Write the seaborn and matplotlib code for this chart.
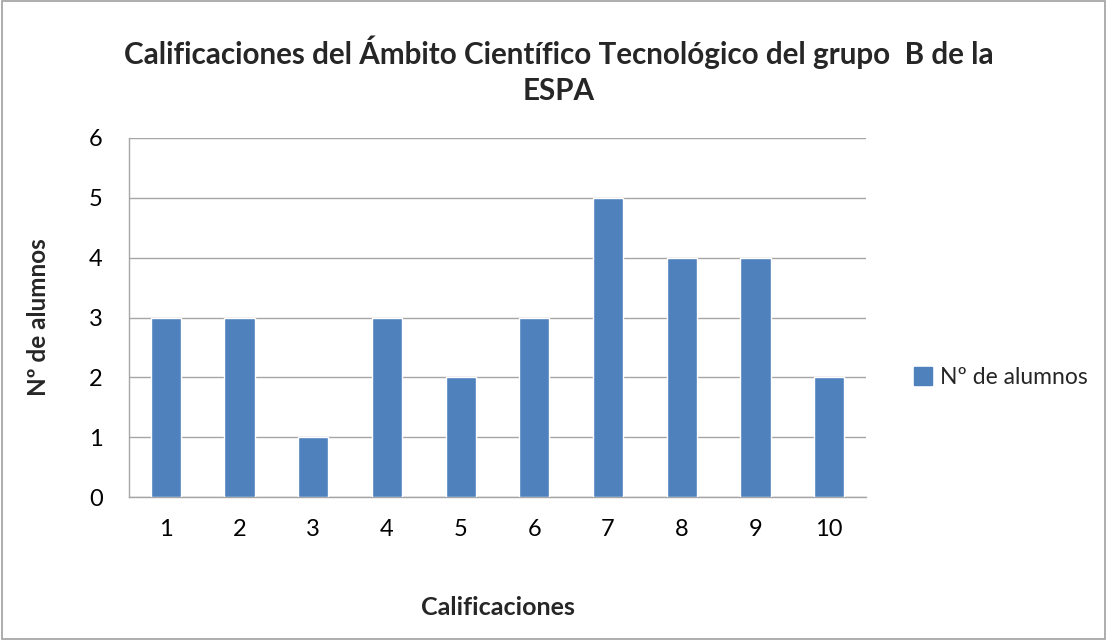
import matplotlib
matplotlib.use("Agg")
import matplotlib.pyplot as plt
import seaborn as sns
import pandas as pd
from matplotlib.patches import Patch

calificaciones = ["1", "2", "3", "4", "5", "6", "7", "8", "9", "10"]
alumnos = [3, 3, 1, 3, 2, 3, 5, 4, 4, 2]
serie = "Nº de alumnos"
titulo = "Calificaciones del Ámbito Científico Tecnológico del grupo  B de la\nESPA"

sns.set_style("white")
plt.rcParams["font.family"] = ["Lato", "DejaVu Sans"]

df = pd.DataFrame({"Calificaciones": calificaciones, serie: alumnos})
color = "#4F81BD"

fig = plt.figure(figsize=(11.07, 6.40), dpi=100)
fig.patch.set_facecolor("white")
# outer border
fig.add_artist(plt.Rectangle((0.002, 0.002), 0.996, 0.996, transform=fig.transFigure,
                             fill=False, edgecolor="#A0A0A0", linewidth=1.2))
ax = fig.add_axes([0.1165, 0.2234, 0.6658, 0.561])
sns.barplot(data=df, x="Calificaciones", y=serie, color=color, saturation=1,
            width=0.41, ax=ax, zorder=3)
ax.set_ylim(0, 6)
ax.set_yticks(range(0, 7))
ax.grid(axis="y", color="#A6A6A6", linewidth=1, zorder=0)
for s in ["top", "right"]:
    ax.spines[s].set_visible(False)
for s in ["left", "bottom"]:
    ax.spines[s].set_color("#A6A6A6")
    ax.spines[s].set_linewidth(1)
ax.tick_params(axis="both", length=0, labelsize=17, colors="black")
ax.tick_params(axis="x", pad=16)
ax.tick_params(axis="y", pad=19)
ax.set_xlabel("Calificaciones", fontsize=18, fontweight="bold", labelpad=40)
ax.set_ylabel(serie, fontsize=17.5, fontweight="bold", labelpad=28)
fig.suptitle(titulo, x=0.505, y=0.945, fontsize=21.3, fontweight="bold", linespacing=1.35)

handle = Patch(facecolor=color, edgecolor=color)
fig.legend([handle], [serie], loc="center left", bbox_to_anchor=(0.807, 0.41),
           frameon=False, fontsize=16.5, handlelength=0.8, handleheight=0.8,
           handletextpad=0.35)

fig.savefig("out.png", dpi=100, facecolor="white")
